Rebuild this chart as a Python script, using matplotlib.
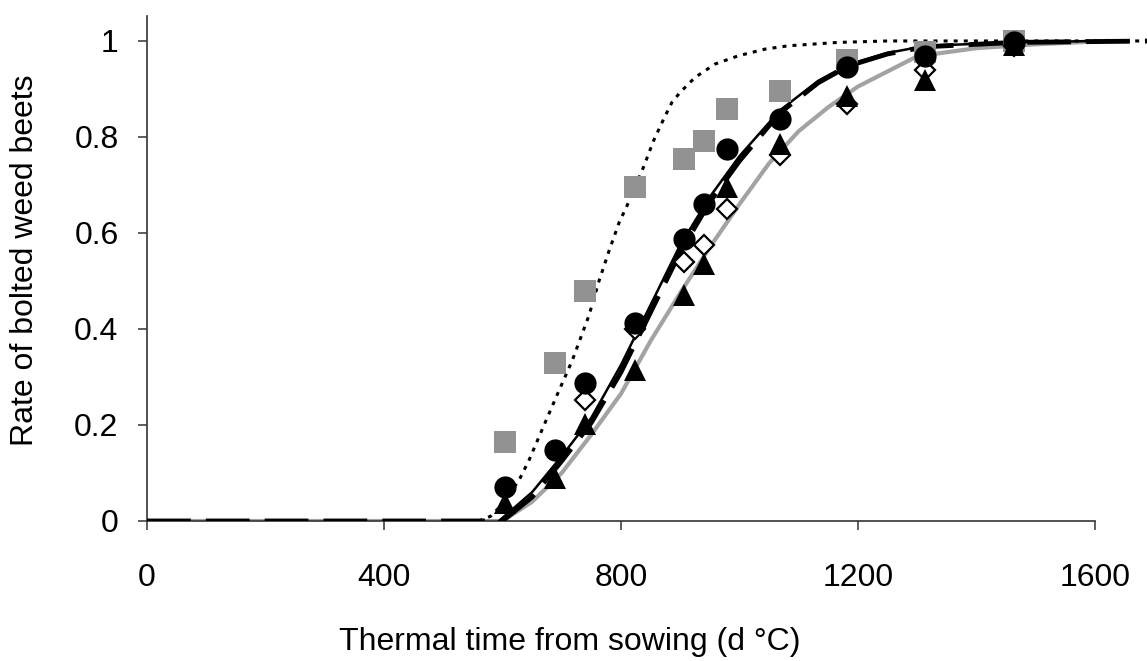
########################################################################################################################
# Rate of bolted weed beets against thermal time from sowing, observed points and fitted curves.
########################################################################################################################

# Standard imports:
import matplotlib
matplotlib.use("Agg")
import matplotlib.pyplot as plt

plt.rcParams['font.family'] = ['Liberation Sans', 'DejaVu Sans']

# Observed thermal times (d °C):
obs_x = [604, 689, 739, 823, 907, 941, 979, 1068, 1182, 1314, 1464]
# the first two diamonds are hidden under the other markers, so they are left out
diamond_x = [739, 823, 907, 941, 979, 1068, 1182, 1314, 1464]

# Observed rates per series:
squares = [0.165, 0.329, 0.480, 0.696, 0.754, 0.792, 0.858, 0.896, 0.960, 0.978, 1.0]
circles = [0.071, 0.148, 0.287, 0.412, 0.588, 0.661, 0.775, 0.838, 0.946, 0.969, 0.997]
diamonds = [0.252, 0.400, 0.539, 0.574, 0.649, 0.763, 0.869, 0.940, 0.990]
triangles = [0.037, 0.089, 0.203, 0.314, 0.470, 0.536, 0.695, 0.785, 0.886, 0.919, 0.992]

# Fitted curves:
dotted_x = [560, 580, 600, 628, 645, 664, 692, 718, 746, 763, 780, 797, 813, 838, 855, 872, 886, 900, 925, 959,
            998, 1043, 1083, 1167, 1250, 1700]
dotted_y = [0, 0.01, 0.035, 0.085, 0.127, 0.182, 0.262, 0.335, 0.428, 0.5, 0.563, 0.622, 0.664, 0.737, 0.792,
            0.837, 0.872, 0.893, 0.924, 0.952, 0.969, 0.983, 0.99, 0.997, 1.0, 1.0]

solid_x = [594, 650, 700, 750, 800, 850, 900, 950, 1000, 1068, 1133, 1184, 1250, 1315, 1466, 1600]
solid_y = [0, 0.06, 0.135, 0.215, 0.325, 0.45, 0.575, 0.675, 0.76, 0.855, 0.917, 0.951, 0.975, 0.99, 0.997, 1.0]

dashed_x = [0, 600, 650, 700, 750, 800, 850, 900, 950, 1000, 1068, 1133, 1184, 1250, 1315, 1466, 1700]
dashed_y = [0, 0, 0.05, 0.125, 0.205, 0.31, 0.435, 0.56, 0.665, 0.75, 0.85, 0.913, 0.948, 0.973, 0.988, 0.997, 1.0]

gray_x = [0, 600, 650, 700, 750, 800, 850, 900, 950, 1000, 1050, 1100, 1150, 1200, 1300, 1400, 1500, 1620]
gray_y = [0, 0, 0.04, 0.1, 0.18, 0.265, 0.375, 0.475, 0.57, 0.66, 0.745, 0.812, 0.862, 0.905, 0.968, 0.985,
          0.993, 1.0]

x_ticks = [0, 400, 800, 1200, 1600]
y_ticks = [0, 0.2, 0.4, 0.6, 0.8, 1]
y_tick_labels = ["0", "0.2", "0.4", "0.6", "0.8", "1"]

FS = 23

fig = plt.figure(figsize=(11.47, 6.61), dpi=100)
ax = fig.add_axes([147 / 1147, 140 / 661, 1000 / 1147, 505 / 661])

# curves first, markers on top
ax.plot(gray_x, gray_y, color='#a3a3a3', lw=3.0, zorder=2)
ax.plot(dashed_x, dashed_y, color='black', lw=3.5, dashes=(9, 3.1), zorder=3)
ax.plot(solid_x, solid_y, color='black', lw=1.8, zorder=3)
ax.plot(dotted_x, dotted_y, color='black', lw=2.2, dashes=(1.3, 2.0), zorder=3)

ax.plot(obs_x, squares, ls='none', marker='s', ms=16.5, mfc='#929292', mew=0, zorder=4)
ax.plot(diamond_x, diamonds, ls='none', marker='D', ms=10.5, mfc='white', mec='black', mew=1.6, zorder=5)
ax.plot(obs_x, triangles, ls='none', marker='^', ms=16, mfc='black', mew=0, zorder=6)
ax.plot(obs_x, circles, ls='none', marker='o', ms=16, mfc='black', mew=0, zorder=7)

ax.set_xlim(0, 1688)
ax.set_ylim(0, 1.052)

for side in ['top', 'right']:
    ax.spines[side].set_visible(False)
for side in ['left', 'bottom']:
    ax.spines[side].set_color('#333333')
    ax.spines[side].set_linewidth(1.2)
ax.spines['bottom'].set_bounds(0, 1600)

ax.set_xticks(x_ticks)
ax.set_xticklabels([str(v) for v in x_ticks])
ax.set_yticks(y_ticks)
ax.set_yticklabels(y_tick_labels)
ax.tick_params(axis='both', direction='out', length=6.5, width=1.1, color='#333333', labelsize=FS)
ax.tick_params(axis='x', pad=24)
ax.tick_params(axis='y', pad=14)

fig.text(570 / 1147, 1 - 642 / 661, "Thermal time from sowing (d °C)", fontsize=FS, ha='center', va='center')
fig.text(25 / 1147, 1 - 260 / 661, "Rate of bolted weed beets", fontsize=FS, ha='center', va='center',
         rotation=90)

fig.savefig("out.png", dpi=100)
